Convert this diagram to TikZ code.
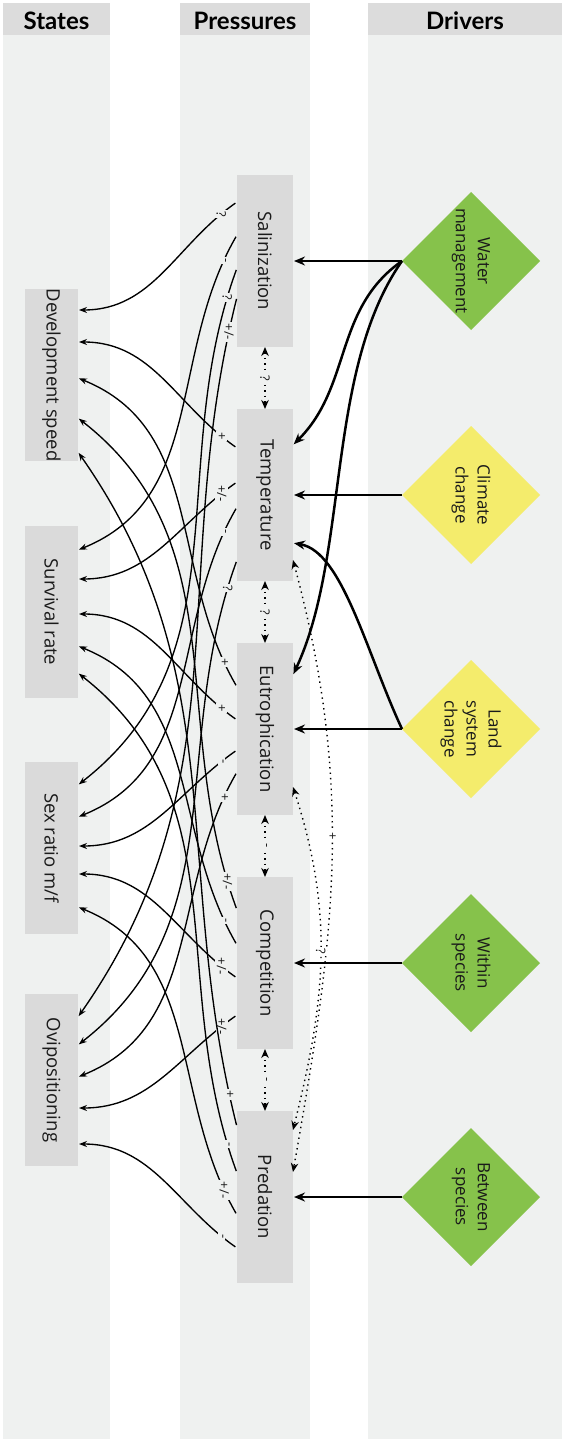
\documentclass[tikz,border=0pt]{standalone}
\usepackage{fontspec}
\setmainfont{Open Sans}
\newfontfamily\headfont{Lato}
\usetikzlibrary{shapes.geometric,arrows.meta}

\definecolor{colbg}{HTML}{EFF1F0}
\definecolor{headgray}{HTML}{DCDCDC}
\definecolor{boxgray}{HTML}{DADADA}
\definecolor{drvgreen}{HTML}{86C24B}
\definecolor{drvyellow}{HTML}{F4EC6C}
\definecolor{ink}{HTML}{1A1A1A}

\tikzset{
  head/.style={font=\headfont\bfseries\fontsize{24}{24}\selectfont, text=black},
  statebox/.style={fill=boxgray, minimum width=53pt, minimum height=172pt, inner sep=0pt, outer sep=0pt, text=ink, font=\fontsize{18.5}{20}\selectfont},
  pressbox/.style={fill=boxgray, minimum width=56pt, minimum height=172pt, inner sep=0pt, outer sep=0pt, text=ink, font=\fontsize{18.5}{20}\selectfont},
  driver/.style={diamond, minimum width=138pt, minimum height=138pt, inner sep=0pt, outer sep=0pt},
  drvtext/.style={rotate=-90, align=center, text=ink, font=\fontsize{17}{22}\selectfont},
  effect/.style={line width=1.35pt, -{Stealth[length=8pt,width=6pt]}, shorten <=2pt, shorten >=1pt},
  push/.style={line width=2.5pt, -{Stealth[length=11pt,width=9pt]}, shorten >=1pt},
  mutual/.style={line width=1.4pt, dash pattern=on 1.4pt off 4pt, {Stealth[length=9pt,width=7.5pt]}-{Stealth[length=9pt,width=7.5pt]}},
  sign/.style={rotate=-90, fill=colbg, inner sep=1.6pt, text=ink, font=\fontsize{13}{13}\selectfont},
  sA/.style={sign, pos=.09}, sB/.style={sign, pos=.07},
  sC/.style={sign, pos=.05}, sD/.style={sign, pos=.042},
  dA/.style={out=215, in=0}, uA/.style={out=145, in=0},
  dB/.style={out=240, in=22}, uB/.style={out=120, in=-22},
  dC/.style={out=250, in=38}, uC/.style={out=110, in=-38},
  dD/.style={out=256, in=55}, uD/.style={out=104, in=-55}
}

\begin{document}
\begin{tikzpicture}[x=1pt, y=1pt]
\useasboundingbox (0,0) rectangle (567,-1439);
\fill[white] (0,0) rectangle (567,-1439);

\fill[colbg] (3,-3) rectangle (110,-1439);
\fill[colbg] (180,-3) rectangle (310,-1439);
\fill[colbg] (368,-3) rectangle (562,-1439);
\fill[headgray] (3,-3) rectangle (110,-35);
\fill[headgray] (180,-3) rectangle (310,-35);
\fill[headgray] (368,-3) rectangle (562,-35);
\node[head] (hstates) at (56.5,-21) {States};
\node[head] (hpress) at (245,-21) {Pressures};
\node[head] (hdrive) at (465,-21) {Drivers};

\node[statebox] (dev) at (51.5,-375) {\rotatebox{-90}{Development speed}};
\node[statebox] (surv) at (51.5,-612) {\rotatebox{-90}{Survival rate}};
\node[statebox] (sex) at (51.5,-848) {\rotatebox{-90}{Sex ratio m/f}};
\node[statebox] (ovi) at (51.5,-1080) {\rotatebox{-90}{Ovipositioning}};

\node[pressbox] (sal) at (265,-261) {\rotatebox{-90}{Salinization}};
\node[pressbox] (temp) at (265,-495) {\rotatebox{-90}{Temperature}};
\node[pressbox] (eut) at (265,-729) {\rotatebox{-90}{Eutrophication}};
\node[pressbox] (comp) at (265,-963) {\rotatebox{-90}{Competition}};
\node[pressbox] (pred) at (265,-1197) {\rotatebox{-90}{Predation}};

\node[driver, fill=drvgreen] (water) at (471,-261) {};
\node[driver, fill=drvyellow] (climate) at (471,-495) {};
\node[driver, fill=drvyellow] (land) at (471,-729) {};
\node[driver, fill=drvgreen] (within) at (471,-963) {};
\node[driver, fill=drvgreen] (between) at (471,-1197) {};
\node[drvtext] at (water) {Water\\management};
\node[drvtext] at (climate) {Climate\\change};
\node[drvtext] at (land) {Land\\system\\change};
\node[drvtext] at (within) {Within\\species};
\node[drvtext] at (between) {Between\\species};

\draw[push] (water.west) -- (sal.east);
\draw[push] (water.west) to[out=215, in=45] ([yshift=50pt]temp.east);
\draw[push] (water.west) to[out=235, in=65, looseness=0.8] ([yshift=54pt]eut.east);
\draw[push] (climate.west) -- (temp.east);
\draw[push] (land.west) -- (eut.east);
\draw[push] (land.west) to[out=115, in=-10, out distance=84pt, in distance=50pt] ([yshift=-48pt]temp.east);
\draw[push] (within.west) -- (comp.east);
\draw[push] (between.west) -- (pred.east);

\draw[mutual] (sal.south) -- node[sign] {?} (temp.north);
\draw[mutual] (temp.south) -- node[sign] {?} (eut.north);
\draw[mutual] (eut.south) -- node[sign] {-} (comp.north);
\draw[mutual] (comp.south) -- node[sign] {-} (pred.north);

\draw[mutual] ([yshift=-65pt]temp.east) to[out=-75, in=80] node[sign, fill=white, pos=.45] {+} ([yshift=25pt]pred.east);
\draw[mutual] ([yshift=-58pt]eut.east) to[out=-72, in=76] node[sign, fill=white, pos=.48] {?} ([yshift=67pt]pred.east);

\draw[effect] ([yshift=59pt]sal.west) to[dA] node[sA] {?} ([yshift=65pt]dev.east);
\draw[effect] ([yshift=26pt]sal.west) to[dB] node[sB] {-} ([yshift=62pt]surv.east);
\draw[effect] ([yshift=-7pt]sal.west) to[dC] node[sC] {?} ([yshift=63pt]sex.east);
\draw[effect] ([yshift=-36pt]sal.west) to[dD] node[sD] {+/-} ([yshift=63pt]ovi.east);

\draw[effect] ([yshift=47pt]temp.west) to[uA] node[sA] {+} ([yshift=33pt]dev.east);
\draw[effect] ([yshift=13pt]temp.west) to[dA] node[sA] {+/-} ([yshift=33pt]surv.east);
\draw[effect] ([yshift=-12pt]temp.west) to[dB] node[sB] {-} ([yshift=31pt]sex.east);
\draw[effect] ([yshift=-65pt]temp.west) to[dC] node[sC] {?} ([yshift=35pt]ovi.east);

\draw[effect] ([yshift=42pt]eut.west) to[uB] node[sB] {+} ([yshift=-3pt]dev.east);
\draw[effect] ([yshift=9pt]eut.west) to[uA] node[sA] {+} ([yshift=-2pt]surv.east);
\draw[effect] ([yshift=-21pt]eut.west) to[dA] node[sA] {-} ([yshift=2pt]sex.east);
\draw[effect] ([yshift=-43pt]eut.west) to[dB] node[sB] {+} ([yshift=3pt]ovi.east);

\draw[effect] ([yshift=53pt]comp.west) to[uC] node[sC] {+/-} ([yshift=-43pt]dev.east);
\draw[effect] ([yshift=18pt]comp.west) to[uB] node[sB] {-} ([yshift=-34pt]surv.east);
\draw[effect] ([yshift=-15pt]comp.west) to[uA] node[sA] {+/-} ([yshift=-26pt]sex.east);
\draw[effect] ([yshift=-52pt]comp.west) to[dA] node[sA] {+/-} ([yshift=-28pt]ovi.east);

\draw[effect] ([yshift=70pt]pred.west) to[uD] node[sD] {+} ([yshift=-77pt]dev.east);
\draw[effect] ([yshift=24pt]pred.west) to[uC] node[sC] {-} ([yshift=-61pt]surv.east);
\draw[effect] ([yshift=-18pt]pred.west) to[uB] node[sB] {+/-} ([yshift=-59pt]sex.east);
\draw[effect] ([yshift=-51pt]pred.west) to[uA] node[sA] {-} ([yshift=-64pt]ovi.east);
\end{tikzpicture}
\end{document}
